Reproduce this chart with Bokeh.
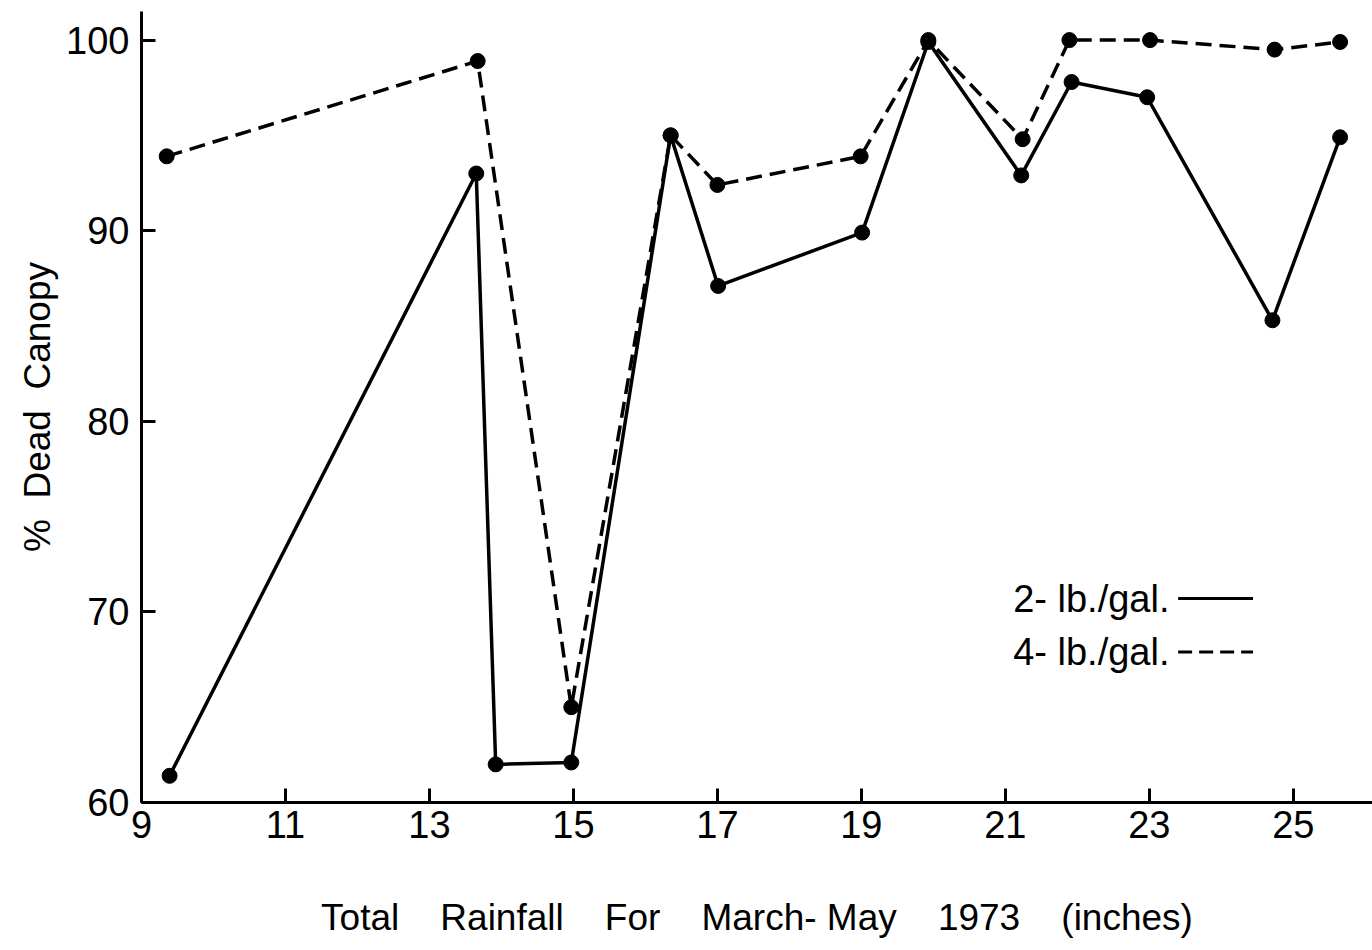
from bokeh.plotting import figure
from bokeh.models import Range1d, FixedTicker, Label, Arrow
from bokeh.embed import file_html
from bokeh.resources import INLINE

# Data
rain_2lb = [9.39, 13.65, 13.92, 14.97, 16.35, 17.01, 19.01, 19.93, 21.22, 21.92, 22.97, 24.71, 25.65]
dead_2lb = [61.4, 93.0, 62.0, 62.1, 95.0, 87.1, 89.9, 99.9, 92.9, 97.8, 97.0, 85.3, 94.9]

rain_4lb = [9.35, 13.67, 14.97, 16.35, 17.00, 18.99, 19.93, 21.24, 21.89, 23.01, 24.74, 25.65]
dead_4lb = [93.9, 98.9, 65.0, 95.0, 92.4, 93.9, 100.0, 94.8, 100.0, 100.0, 99.5, 99.9]

x_ticks = [9, 11, 13, 15, 17, 19, 21, 23, 25]
y_ticks = [60, 70, 80, 90, 100]

legend_labels = ["2- lb./gal.", "4- lb./gal."]

FONT = "Liberation Sans"
SP = "\u00a0\u00a0\u00a0\u00a0"

p = figure(width=1372, height=940, output_backend="svg", toolbar_location=None,
           x_range=Range1d(9, 26.1), y_range=Range1d(60, 101.5),
           min_border_left=141, min_border_right=0, min_border_top=11, min_border_bottom=137)
p.outline_line_color = None
p.xgrid.visible = False
p.ygrid.visible = False
p.background_fill_color = "white"
p.border_fill_color = "white"

for ax in (p.xaxis[0], p.yaxis[0]):
    ax.axis_line_width = 3
    ax.axis_line_color = "black"
    ax.major_tick_line_width = 3
    ax.major_tick_in = 14
    ax.major_tick_out = 0
    ax.minor_tick_line_color = None
    ax.major_label_text_font = FONT
    ax.major_label_text_font_size = "38px"
    ax.major_label_text_color = "black"
    ax.axis_label_text_font = FONT
    ax.axis_label_text_font_style = "normal"
    ax.axis_label_text_font_size = "37px"
    ax.axis_label_text_color = "black"

p.xaxis.ticker = FixedTicker(ticks=x_ticks)
p.yaxis.ticker = FixedTicker(ticks=y_ticks)
p.xaxis.major_label_standoff = 8
p.yaxis.major_label_standoff = 12
p.xaxis.axis_label = "Total" + SP + "Rainfall" + SP + "For" + SP + "March-\u00a0May" + SP + "1973" + SP + "(inches)"
p.yaxis.axis_label = "%\u00a0\u00a0Dead\u00a0\u00a0Canopy"
p.xaxis.axis_label_standoff = 56
p.yaxis.axis_label_standoff = 5

# series
p.line(rain_2lb, dead_2lb, line_color="black", line_width=3.5)
p.scatter(rain_2lb, dead_2lb, size=15, color="black")
p.line(rain_4lb, dead_4lb, line_color="black", line_width=3.5, line_dash="16 8")
p.scatter(rain_4lb, dead_4lb, size=15, color="black")

# legend (text followed by line sample)
leg_y = [70.7, 67.9]
leg_dash = ["solid", "14 7"]
for lab, ly, dash in zip(legend_labels, leg_y, leg_dash):
    p.add_layout(Label(x=23.28, y=ly, text=lab, text_font=FONT, text_font_size="38px",
                       text_color="black", text_align="right", text_baseline="middle"))
    p.add_layout(Arrow(end=None, x_start=23.40, y_start=ly, x_end=24.44, y_end=ly,
                       line_color="black", line_width=3, line_dash=dash))

open("out.html", "w").write(file_html(p, INLINE))
